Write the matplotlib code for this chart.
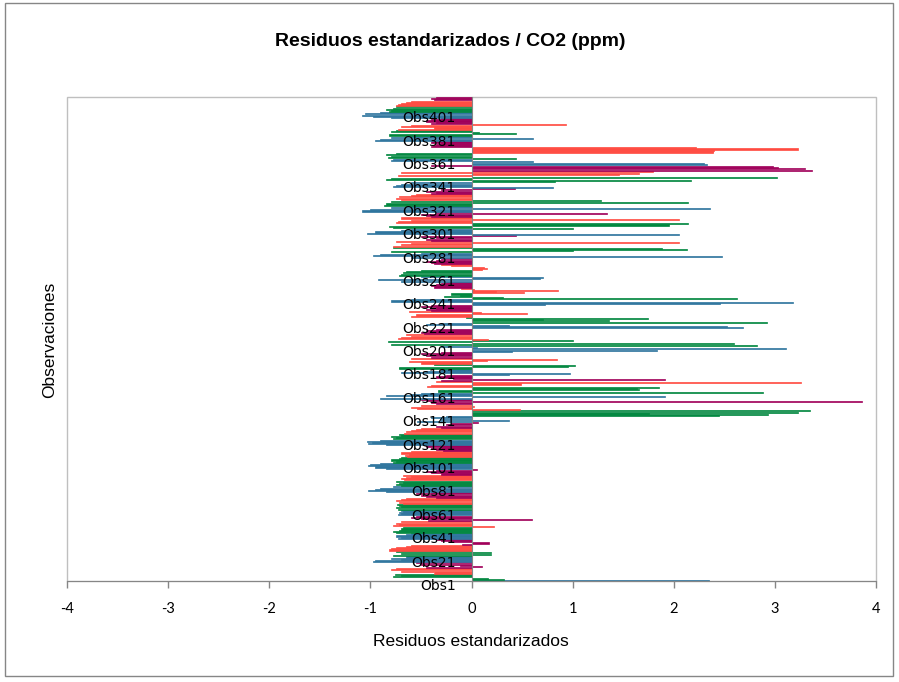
import matplotlib
matplotlib.use("Agg")
import matplotlib.pyplot as plt
import matplotlib.transforms as mtransforms
from matplotlib.patches import Rectangle

# Standardized residuals, Obs1 ... Obs414 (bottom to top)
residuos = [
    2.35,
    0.32, 0.16, -0.78, -0.70, -0.76,
    -0.37, -0.36, -0.70, -0.80, -0.75,
    -0.45, 0.10, -0.11, -0.50, -0.55,
    -0.97, -0.95, -0.70, -0.80, -0.65,
    -0.78, 0.19, -0.70, 0.19, -0.75,
    -0.82, -0.80, -0.75, -0.65, -0.60,
    -0.09, 0.17, -0.20, -0.30, -0.35,
    -0.73, -0.70, -0.75, -0.65, -0.60,
    -0.75, -0.78, -0.72, -0.70, -0.68,
    0.22, -0.78, -0.72, -0.75, -0.70,
    -0.43, 0.60, -0.50, -0.60, -0.55,
    -0.73, -0.70, -0.72, -0.68, -0.70,
    -0.73, -0.75, -0.70, -0.72, -0.74,
    -0.68, -0.72, -0.75, -0.70, -0.65,
    -0.35, -0.45, -0.50, -0.55, -0.40,
    -0.85, -1.02, -0.95, -0.90, -0.78,
    -0.70, -0.75, -0.72, -0.68, -0.75,
    -0.67, -0.70, -0.65, -0.60, -0.68,
    -0.30, -0.40, -0.45, -0.35, 0.05,
    -0.85, -0.95, -1.02, -1.00, -0.90,
    -0.78, -0.75, -0.80, -0.72, -0.70,
    -0.64, -0.66, -0.62, -0.70, -0.60,
    -0.28, -0.35, -0.40, -0.30, -0.45,
    -0.85, -1.02, -0.98, -1.03, -0.90,
    -0.78, -0.75, -0.80, -0.70, -0.72,
    -0.67, -0.65, -0.60, -0.55, -0.50,
    -0.30, -0.35, -0.25, -0.20, 0.06,
    -0.54, 0.37, -0.31, -0.40, -0.25,
    2.45, 2.93, 1.76, 3.23, 3.35,
    0.48, -0.54, -0.60, 0.02, -0.50,
    -0.35, -0.40, 3.86, -0.45, -0.50,
    -0.90, 1.91, -0.85, -0.60, -0.50,
    2.88, -0.33, 1.66, 1.64, 1.85,
    -0.44, -0.40, 0.49, 3.26, -0.35,
    -0.30, 1.91, -0.18, -0.35, -0.25,
    0.37, 0.97, -0.70, -0.45, -0.30,
    -0.72, -0.72, 0.95, 1.02, -0.37,
    -0.50, -0.62, 0.15, 0.85, -0.60,
    -0.40, -0.45, -0.35, -0.50, -0.30,
    0.40, 1.83, 3.11, 0.05, -0.30,
    2.82, -0.80, 2.60, -0.83, 1.00,
    0.16, -0.73, -0.70, -0.60, -0.65,
    -0.47, -0.50, -0.40, -0.45, -0.35,
    2.68, 2.53, 0.37, -0.45, -0.30,
    2.92, 1.36, 0.71, 1.75, -0.05,
    -0.60, -0.55, 0.55, 0.09, -0.62,
    -0.40, -0.45, -0.35, -0.50, -0.40,
    0.73, 2.46, 3.18, -0.80, -0.60,
    2.63, 0.31, -0.27, -0.11, -0.20,
    0.52, 0.24, 0.86, 0.02, -0.10,
    -0.37, -0.40, -0.35, -0.30, -0.25,
    -0.70, -0.92, 0.68, 0.71, -0.50,
    -0.72, -0.70, -0.68, -0.65, -0.50,
    0.10, 0.15, 0.12, -0.20, -0.30,
    -0.37, -0.40, -0.45, -0.35, -0.30,
    -0.60, 2.48, -0.97, -0.90, -0.50,
    -0.80, 1.00, 2.13, 1.88, -0.78,
    -0.78, -0.70, -0.60, 2.05, -0.75,
    -0.40, -0.45, -0.35, -0.50, 0.44,
    2.05, -1.03, -0.95, -0.70, -0.60,
    1.00, -0.78, -0.82, 1.95, 2.14,
    -0.75, -0.73, -0.60, 2.05, -0.70,
    -0.40, -0.45, -0.50, 1.34, -0.35,
    -1.08, -1.00, 2.36, -0.80, -0.60,
    -0.87, -0.85, 2.14, -0.80, 1.28,
    -0.70, -0.75, -0.72, -0.60, -0.55,
    -0.40, -0.35, -0.45, -0.30, 0.43,
    0.81, -0.78, -0.75, -0.70, -0.60,
    0.83, 2.17, -0.85, -0.80, 3.02,
    -0.73, 1.46, 1.66, -0.70, 1.79,
    3.37, 3.30, 3.03, 2.98, -0.40,
    2.33, 2.30, 0.61, -0.80, -0.78,
    0.44, -0.83, -0.80, -0.85, -0.75,
    2.39, 2.39, 2.40, 3.23, 2.22,
    -0.40, -0.38, -0.35, -0.30, -0.40,
    -0.95, -0.90, 0.61, -0.80, -0.60,
    -0.82, 0.44, 0.07, -0.80, -0.75,
    -0.73, -0.37, -0.70, -0.60, 0.93,
    -0.40, -0.35, -0.45, -0.40, -0.30,
    -0.80, -0.97, -1.08, -1.05, -0.90,
    -0.82, -0.80, -0.85, -0.78, -0.75,
    -0.75, -0.73, -0.70, -0.65, -0.60,
    -0.37, -0.40, -0.35,
]
n_obs = len(residuos)
observaciones = [f"Obs{i}" for i in range(1, n_obs + 1)]
x_ticks = [-4, -3, -2, -1, 0, 1, 2, 3, 4]

titulo = "Residuos estandarizados / CO2 (ppm)"
x_titulo = "Residuos estandarizados"
y_titulo = "Observaciones"

paleta = ["#2E759E", "#00873E", "#FF4B41", "#A0005A"]

W, H = 899, 682
fig = plt.figure(figsize=(W / 100, H / 100), dpi=100)
fig.patch.set_facecolor("white")

L, R, T, B = 67, 876, 97, 581
ax = fig.add_axes([L / W, 1 - B / H, (R - L) / W, (B - T) / H])
ax.set_axisbelow(False)

pos = list(range(1, n_obs + 1))
colores = [paleta[((i + 3) // 5) % 4] for i in pos]
ax.barh(pos, residuos, height=0.92, color=colores, edgecolor=colores,
        linewidth=0.5, zorder=2)

ax.set_xlim(-4, 4)
ax.set_ylim(0.5, n_obs + 0.5)

ax.set_xticks(x_ticks)
ax.set_xticklabels([str(t) for t in x_ticks], fontsize=10.5, family="Lato")
yt = list(range(1, n_obs + 1, 20))
ax.set_yticks(yt)
ax.set_yticklabels([observaciones[i - 1] for i in yt], fontsize=13, family="Lato",
                   color="black")

for s in ["top", "right"]:
    ax.spines[s].set_visible(False)
ax.spines["left"].set_position(("data", 0))
ax.spines["left"].set_color("#868686")
ax.spines["left"].set_zorder(3)
ax.spines["bottom"].set_color("#868686")

ax.tick_params(axis="y", length=0, pad=11.5)
ax.tick_params(axis="x", direction="out", length=5, width=1, color="#868686", pad=10)

off = mtransforms.ScaledTranslation(0, -4 / 100, fig.dpi_scale_trans)
for lbl in ax.get_yticklabels():
    lbl.set_transform(lbl.get_transform() + off)

# plot area border
ax.add_patch(Rectangle((0, 0), 1, 1, transform=ax.transAxes, fill=False,
                       edgecolor="#BFBFBF", linewidth=1, zorder=0.5, clip_on=False))

fig.text(450 / W, 1 - 42 / H, titulo, ha="center", va="center", fontsize=14,
         fontweight="bold", family="Liberation Sans")
fig.text(471 / W, 1 - 641 / H, x_titulo, ha="center", va="center", fontsize=12.5,
         family="Liberation Sans")
fig.text(50 / W, 1 - 340 / H, y_titulo, ha="center", va="center", fontsize=12.5,
         family="Liberation Sans", rotation=90)

# chart area border
fig.add_artist(Rectangle((5 / W, 1 - 676 / H), (893 - 5) / W, (676 - 3) / H,
                         transform=fig.transFigure, fill=False, edgecolor="#868686",
                         linewidth=1))

fig.savefig("out.png", dpi=100)
